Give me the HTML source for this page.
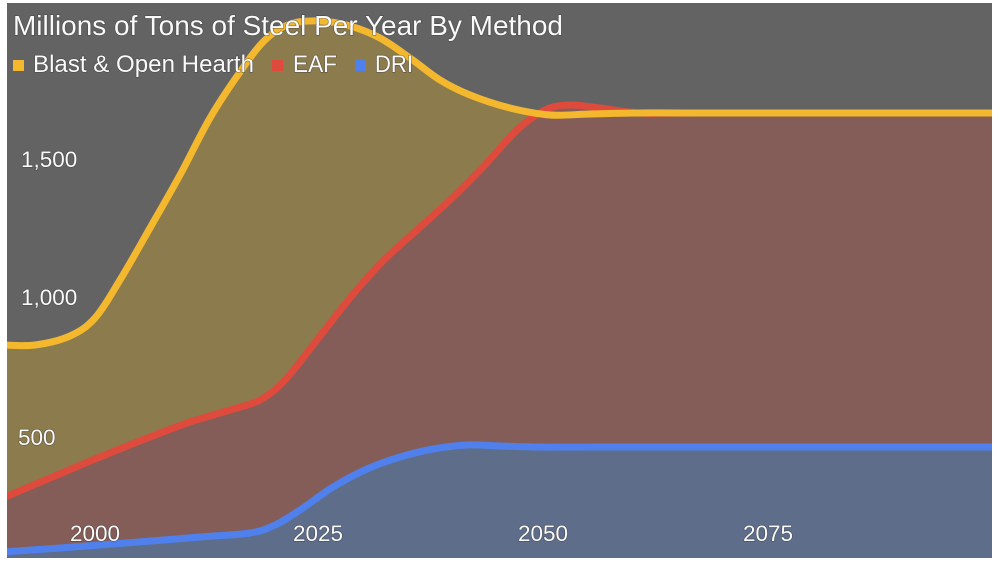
<!DOCTYPE html>
<html>
<head>
<meta charset="utf-8">
<style>
html,body{margin:0;padding:0;background:#fff;}
svg{display:block;}
text{font-family:"Liberation Sans",Arial,sans-serif;fill:#fafafa;stroke:#3a3a3a;stroke-width:1.2;paint-order:stroke;stroke-opacity:0.6;}
</style>
</head>
<body>
<svg width="1000" height="567" viewBox="0 0 1000 567" xmlns="http://www.w3.org/2000/svg">
<defs>
<clipPath id="c"><rect x="7" y="3" width="985" height="555"/></clipPath>
</defs>
<rect x="7" y="3" width="985" height="555" fill="#636363"/>
<g clip-path="url(#c)" stroke-linejoin="round" stroke-linecap="round">
<path id="fy" fill="#8b7b4d" d="M3,345 L35,345 L70,336 L95,318 L120,280 L150,228 L180,175 L210,118 L240,72 L265,40 L290,24 L320,21 L350,26 L380,38 L410,58 L440,80 L470,95 L510,108 L550,115 L590,114 L640,113 L998,113 L998,562 L3,562 Z"/>
<path id="fr" fill="#845d58" d="M3,498 L50,478 L100,457 L150,437 L190,422 L230,410 L260,400 L285,380 L317,340 L350,298 L383,261 L417,230 L450,200 L483,167 L517,130 L545,110 L570,105 L600,108 L640,113 L998,113 L998,562 L3,562 Z"/>
<path id="fb" fill="#5e6e8a" d="M3,552 L100,545 L200,537 L250,533 L275,525 L300,510 L333,487 L367,469 L400,457 L433,449 L467,445 L500,446 L540,447 L998,447 L998,562 L3,562 Z"/>
<path id="lb" fill="none" stroke="#4f80ec" stroke-width="7" d="M3,552 L100,545 L200,537 L250,533 L275,525 L300,510 L333,487 L367,469 L400,457 L433,449 L467,445 L500,446 L540,447 L998,447"/>
<path id="lr" fill="none" stroke="#de4b3c" stroke-width="7" d="M3,498 L50,478 L100,457 L150,437 L190,422 L230,410 L260,400 L285,380 L317,340 L350,298 L383,261 L417,230 L450,200 L483,167 L517,130 L545,110 L570,105 L600,108 L640,113 L998,113"/>
<path id="ly" fill="none" stroke="#f4b82f" stroke-width="7" d="M3,345 L35,345 L70,336 L95,318 L120,280 L150,228 L180,175 L210,118 L240,72 L265,40 L290,24 L320,21 L350,26 L380,38 L410,58 L440,80 L470,95 L510,108 L550,115 L590,114 L640,113 L998,113"/>
</g>
<text x="13" y="35" font-size="27.5" textLength="550" lengthAdjust="spacingAndGlyphs">Millions of Tons of Steel Per Year By Method</text>
<rect x="13" y="60" width="11" height="11" fill="#f4b82f"/>
<text x="33" y="72" font-size="24" textLength="221" lengthAdjust="spacingAndGlyphs">Blast &amp; Open Hearth</text>
<rect x="272" y="60" width="11" height="11" fill="#de4b3c"/>
<text x="293" y="72" font-size="24" textLength="44" lengthAdjust="spacingAndGlyphs">EAF</text>
<rect x="355" y="60" width="11" height="11" fill="#4f80ec"/>
<text x="375" y="72" font-size="24" textLength="38" lengthAdjust="spacingAndGlyphs">DRI</text>
<text x="21" y="167" font-size="22.5">1,500</text>
<text x="21" y="305" font-size="22.5">1,000</text>
<text x="18" y="445" font-size="22.5">500</text>
<text x="95" y="541" font-size="22.5" text-anchor="middle">2000</text>
<text x="318" y="541" font-size="22.5" text-anchor="middle">2025</text>
<text x="543" y="541" font-size="22.5" text-anchor="middle">2050</text>
<text x="768" y="541" font-size="22.5" text-anchor="middle">2075</text>
</svg>
<script>
(function(){
  var Y=[[3,345],[35,345],[70,336],[95,318],[120,280],[150,228],[180,175],[210,118],[240,72],[265,40],[290,24],[320,21],[350,26],[380,38],[410,58],[440,80],[470,95],[510,108],[550,115],[590,114],[640,113],[700,113],[998,113]];
  var R=[[3,498],[50,478],[100,457],[150,437],[190,422],[230,410],[260,400],[285,380],[317,340],[350,298],[383,261],[417,230],[450,200],[483,167],[517,130],[545,110],[570,105],[600,108],[640,113],[700,113],[998,113]];
  var B=[[3,552],[100,545],[200,537],[250,533],[275,525],[300,510],[333,487],[367,469],[400,457],[433,449],[467,445],[500,446],[540,447],[600,447],[998,447]];
  function f(n){return Math.round(n*10)/10;}
  function cr(p){
    var d='M'+p[0][0]+','+p[0][1];
    for(var i=0;i<p.length-1;i++){
      var p0=p[i-1]||p[i],p1=p[i],p2=p[i+1],p3=p[i+2]||p[i+1];
      var c1x=p1[0]+(p2[0]-p0[0])/6,c1y=p1[1]+(p2[1]-p0[1])/6;
      var c2x=p2[0]-(p3[0]-p1[0])/6,c2y=p2[1]-(p3[1]-p1[1])/6;
      d+=' C'+f(c1x)+','+f(c1y)+' '+f(c2x)+','+f(c2y)+' '+p2[0]+','+p2[1];
    }
    return d;
  }
  function set(id,d){var e=document.getElementById(id);if(e)e.setAttribute('d',d);}
  try{
    var dy=cr(Y),dr=cr(R),db=cr(B);
    set('ly',dy);set('lr',dr);set('lb',db);
    set('fy',dy+' L998,562 L3,562 Z');
    set('fr',dr+' L998,562 L3,562 Z');
    set('fb',db+' L998,562 L3,562 Z');
  }catch(e){}
})();
</script>
</body>
</html>
